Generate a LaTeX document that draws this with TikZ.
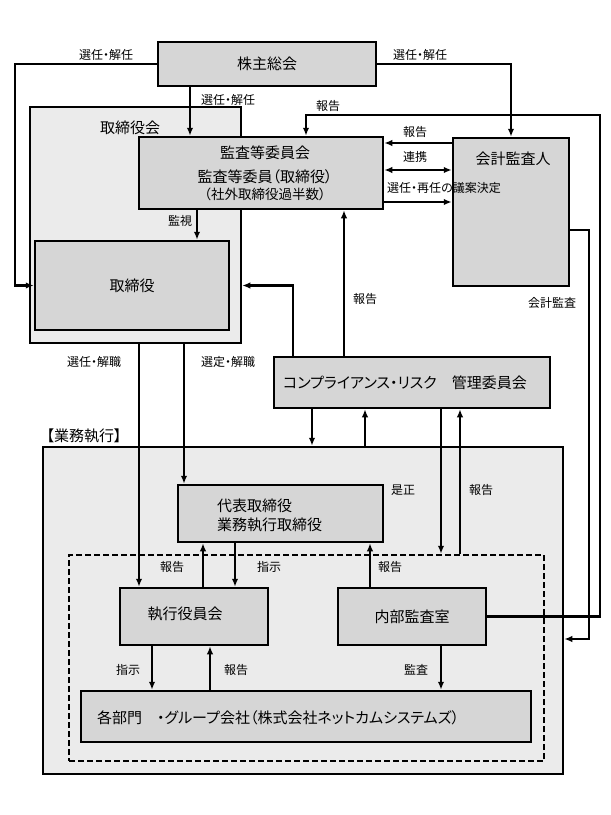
\documentclass[tikz,border=0pt]{standalone}
\usepackage{fontspec}
\setmainfont{Noto Sans CJK JP}[RawFeature={+palt}]
\usetikzlibrary{arrows.meta}

\definecolor{boxgray}{HTML}{D6D6D6}
\definecolor{bggray}{HTML}{EBEBEB}

\tikzset{
  unitbox/.style={draw, line width=2.5pt, fill=boxgray, inner sep=0pt, font=\fontsize{15}{18}\selectfont},
  outerbox/.style={draw, line width=2.5pt, fill=bggray, inner sep=0pt},
  ttl/.style={inner sep=0pt, font=\fontsize{15}{19}\selectfont},
  lbl/.style={inner sep=0pt, font=\fontsize{12}{14}\selectfont},
  arr/.style={line width=2.5pt, -{Latex[length=8pt,width=6.5pt]}},
  dbl/.style={line width=2.5pt, {Latex[length=8pt,width=6.5pt]}-{Latex[length=8pt,width=6.5pt]}},
}

\begin{document}
\begin{tikzpicture}[x=1pt,y=-1pt]
\useasboundingbox (0,0) rectangle (611,815);

% containers
\node[outerbox, minimum width=211, minimum height=236] (torikai) at (135.5,225) {};
\node[ttl] (torikaiName) at (130,128) {取締役会};
\node[outerbox, minimum width=520, minimum height=327] (gyomu) at (303,610.5) {};
\node[ttl] (gyomuName) at (84,436) {【業務執行】};
\node[draw, line width=2.5pt, dash pattern=on 6pt off 3pt, minimum width=475, minimum height=206] (kanri) at (306.5,658) {};

% boxes
\node[unitbox, minimum width=218, minimum height=44] (kabunushi) at (267,64) {株主総会};
\node[unitbox, minimum width=244, minimum height=72] (kansa) at (261,173) {};
\node[ttl] (kansaName) at (265,153) {監査等委員会};
\node[ttl] (kansaSub) at (265,177) {監査等委員（取締役）};
\node[inner sep=0pt, font=\fontsize{13.5}{16}\selectfont] (kansaNote) at (265,194) {（社外取締役過半数）};
\node[unitbox, minimum width=116, minimum height=148] (kaikei) at (511,212) {};
\node[ttl] (kaikeiName) at (513,159) {会計監査人};
\node[unitbox, minimum width=194, minimum height=89] (torishimari) at (132,285.5) {取締役};
\node[unitbox, minimum width=276, minimum height=51] (comp) at (412,382.5) {};
\node[ttl] (compName) at (405,383) {コンプライアンス・リスク　管理委員会};
\node[unitbox, minimum width=205, minimum height=57] (daihyo) at (280.5,513.5) {};
\node[ttl, anchor=west, align=left] (daihyoName) at (217,515.5) {代表取締役\\業務執行取締役};
\node[unitbox, minimum width=148, minimum height=57] (shikko) at (194,616.5) {};
\node[ttl] (shikkoName) at (185,614) {執行役員会};
\node[unitbox, minimum width=148, minimum height=57] (naibu) at (412,616.5) {内部監査室};
\node[unitbox, minimum width=450, minimum height=51] (kakubu) at (306,716.5) {};
\node[ttl, anchor=west] (kakubuName) at (97,718) {各部門　・グループ会社（株式会社ネットカムシステムズ）};

% connectors
\draw[arr] (kabunushi.west) -| (15,0 |- torishimari.west) -- (torishimari.west);
\draw[arr] (kabunushi.east) -| (kaikei.north);
\draw[arr] (190,0 |- kabunushi.south) -- (190,0 |- kansa.north);
\draw[arr] (naibu.east) -| (600,115) -| (306,0 |- kansa.north);
\draw[arr] (kaikei.west |- 0,143) -- (kansa.east |- 0,143);
\draw[dbl] (kansa.east |- 0,170) -- (kaikei.west |- 0,170);
\draw[arr] (kansa.east |- 0,202) -- (kaikei.west |- 0,202);
\draw[arr] (197,0 |- kansa.south) -- (197,0 |- torishimari.north);
\draw[arr] (344,0 |- comp.north) -- (344,0 |- kansa.south);
\draw[arr] (293,0 |- comp.north) |- (torikai.east |- torishimari.east);
\draw[arr] (kaikei.east |- 0,230) -| (589,639) -- (gyomu.east |- 0,639);
\draw[arr] (139,0 |- torikai.south) -- (139,0 |- shikko.north);
\draw[arr] (184,0 |- torikai.south) -- (184,0 |- daihyo.north);
\draw[arr] (312,0 |- comp.south) -- (312,0 |- gyomu.north);
\draw[arr] (365,0 |- gyomu.north) -- (365,0 |- comp.south);
\draw[arr] (441,0 |- comp.south) -- (441,0 |- kanri.north);
\draw[arr] (460,0 |- kanri.north) -- (460,0 |- comp.south);
\draw[arr] (203,0 |- shikko.north) -- (203,0 |- daihyo.south);
\draw[arr] (235,0 |- daihyo.south) -- (235,0 |- shikko.north);
\draw[arr] (370,0 |- naibu.north) -- (370,0 |- daihyo.south);
\draw[arr] (152,0 |- shikko.south) -- (152,0 |- kakubu.north);
\draw[arr] (210,0 |- kakubu.north) -- (210,0 |- shikko.south);
\draw[arr] (441,0 |- naibu.south) -- (441,0 |- kakubu.north);

% labels
\node[lbl] (lSenninL) at (106,55) {選任・解任};
\node[lbl] (lSenninR) at (420,55) {選任・解任};
\node[lbl] (lSenninC) at (228,100) {選任・解任};
\node[lbl] (lHokokuTop) at (328,106) {報告};
\node[lbl] (lHokokuKaikei) at (415,132) {報告};
\node[lbl] (lRenkei) at (415,157) {連携};
\node[lbl] (lGian) at (444,188) {選任・再任の議案決定};
\node[lbl] (lKanshi) at (180,221) {監視};
\node[lbl] (lHokokuComp) at (365,299) {報告};
\node[lbl] (lKaikeiKansa) at (552,303) {会計監査};
\node[lbl] (lKaishoku) at (94,362) {選任・解職};
\node[lbl] (lSentei) at (228,362) {選定・解職};
\node[lbl] (lZesei) at (403,490) {是正};
\node[lbl] (lHokokuGyomu) at (481,490) {報告};
\node[lbl] (lHokokuShikko) at (172,567) {報告};
\node[lbl] (lShijiShikko) at (269,567) {指示};
\node[lbl] (lHokokuNaibu) at (390,567) {報告};
\node[lbl] (lShijiKakubu) at (128,670) {指示};
\node[lbl] (lHokokuKakubu) at (236,670) {報告};
\node[lbl] (lKansa) at (416,670) {監査};
\end{tikzpicture}
\end{document}
